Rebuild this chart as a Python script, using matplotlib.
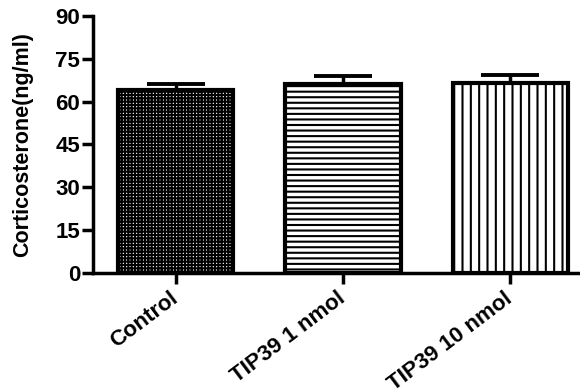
import numpy as np
import matplotlib.pyplot as plt

plt.rcParams['font.family'] = ['Liberation Sans', 'DejaVu Sans']
plt.rcParams['font.weight'] = 'bold'

groups = ['Control', 'TIP39 1 nmol', 'TIP39 10 nmol']
means = [64.0, 66.3, 66.4]
sem = [2.2, 2.8, 2.9]
hatches = ['+++++', '---', '||']
hatch_lw = [1.5, 1.5, 1.5]

fig = plt.figure(figsize=(5.8, 3.91), dpi=100)
ax = fig.add_axes([0.160, 0.302, 0.85, 0.657])

x = np.arange(len(groups))
for i in range(len(groups)):
    with plt.rc_context({'hatch.linewidth': hatch_lw[i]}):
        ax.bar(x[i], means[i], width=0.69, color='white', edgecolor='black',
               linewidth=3, hatch=hatches[i], zorder=2)
    ax.errorbar(x[i], means[i], yerr=[[0], [sem[i]]], color='black',
                elinewidth=2.5, capsize=21, capthick=2.8, zorder=1)

ax.set_ylim(0, 90)
ax.set_xlim(-0.495, 2.45)
ax.set_yticks(np.arange(0, 91, 15))
ax.set_xticks(x)
ax.set_xticklabels(groups, rotation=37, ha='right', va='center',
                   rotation_mode='anchor', fontsize=16, fontweight='bold')
ax.tick_params(axis='y', labelsize=16, width=2.5, length=8, pad=1)
ax.tick_params(axis='x', width=2.5, length=8, pad=9)

ax.set_ylabel('Corticosterone(ng/ml)', fontsize=15.5, fontweight='bold')
ax.yaxis.set_label_coords(-0.122, 0.5)

for side in ['top', 'right']:
    ax.spines[side].set_visible(False)
for side in ['left', 'bottom']:
    ax.spines[side].set_linewidth(2.5)

fig.savefig('out.png', dpi=100)
